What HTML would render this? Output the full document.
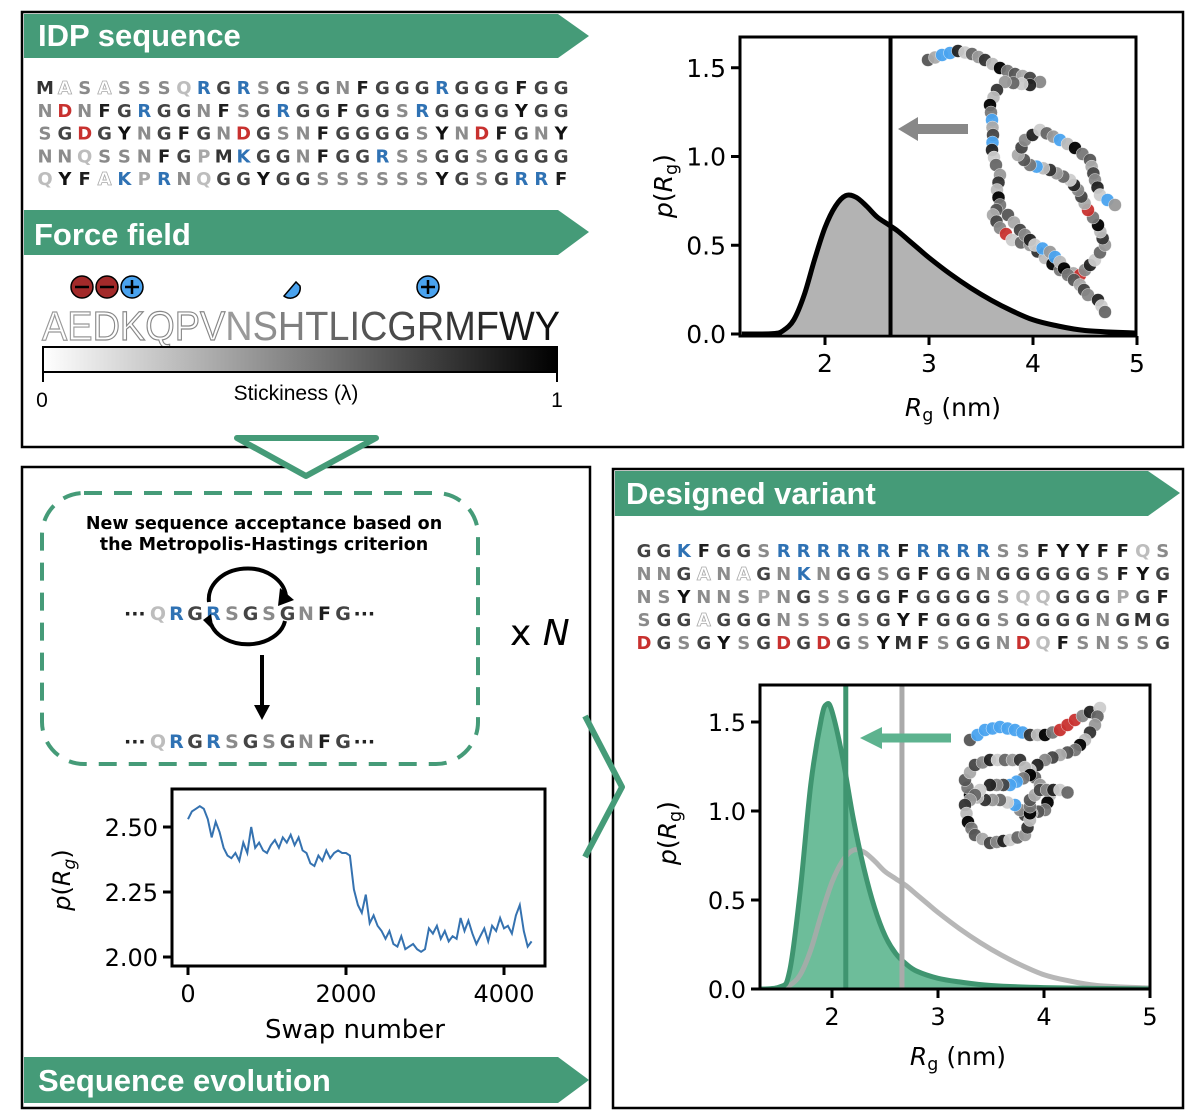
<!DOCTYPE html>
<html><head><meta charset="utf-8">
<style>
html,body{margin:0;padding:0;background:#fff;}
svg{display:block;font-family:"Liberation Sans","DejaVu Sans",sans-serif;}
.seq{font-family:"DejaVu Sans","Liberation Sans",sans-serif;font-weight:bold;}
.dv{font-family:"DejaVu Sans","Liberation Sans",sans-serif;}
</style></head>
<body>
<svg id="fig" width="1200" height="1118" viewBox="0 0 1200 1118" xmlns="http://www.w3.org/2000/svg">
<defs>
<linearGradient id="stick" x1="0" x2="1" y1="0" y2="0"><stop offset="0" stop-color="#fff"/><stop offset="1" stop-color="#000"/></linearGradient>
</defs>
<rect x="22" y="12" width="1161" height="435" fill="none" stroke="#000" stroke-width="2.5"/>
<rect x="22" y="467" width="568" height="641" fill="none" stroke="#000" stroke-width="2.5"/>
<rect x="613" y="469" width="570" height="639" fill="none" stroke="#000" stroke-width="2.5"/>

<g>
<polygon points="24,14 558,14 589,36 558,58 24,58" fill="#459b78"/>
<text x="38" y="46" fill="#fff" font-size="31" font-weight="bold">IDP sequence</text></g>
<g>
<polygon points="24,210 558,210 589,232 558,255 24,255" fill="#459b78"/>
<text x="34" y="245" fill="#fff" font-size="31" font-weight="bold">Force field</text></g>
<g>
<polygon points="615,471 1148,471 1180,493 1148,516 615,516" fill="#459b78"/>
<text x="626" y="504" fill="#fff" font-size="31" font-weight="bold">Designed variant</text></g>
<g>
<polygon points="24,1057 558,1057 589,1080 558,1103 24,1103" fill="#459b78"/>
<text x="38" y="1091" fill="#fff" font-size="31" font-weight="bold">Sequence evolution</text></g>

<polygon points="237,438 376,438 306,476" fill="#fff" stroke="#459b78" stroke-width="6" stroke-linejoin="round"/>
<polyline points="585,716 622,787 585,857" fill="none" stroke="#459b78" stroke-width="6" stroke-linejoin="round"/>

<g id="seqs"></g>

<g>
<circle cx="82" cy="287" r="11" fill="#a32a2a" stroke="#000" stroke-width="1.5"/><line x1="75" y1="287" x2="89" y2="287" stroke="#000" stroke-width="2.5"/>
<circle cx="107" cy="287" r="11" fill="#a32a2a" stroke="#000" stroke-width="1.5"/><line x1="100" y1="287" x2="114" y2="287" stroke="#000" stroke-width="2.5"/>
<circle cx="132" cy="287" r="11" fill="#4aa3ef" stroke="#000" stroke-width="1.5"/><line x1="125" y1="287" x2="139" y2="287" stroke="#000" stroke-width="2.5"/><line x1="132" y1="280" x2="132" y2="294" stroke="#000" stroke-width="2.5"/>
<path d="M284,296 A10,10 0 0 0 300,286 L296,282 Z" fill="#4aa3ef" stroke="#000" stroke-width="1.5"/>
<circle cx="428" cy="287" r="11" fill="#4aa3ef" stroke="#000" stroke-width="1.5"/><line x1="421" y1="287" x2="435" y2="287" stroke="#000" stroke-width="2.5"/><line x1="428" y1="280" x2="428" y2="294" stroke="#000" stroke-width="2.5"/>
</g>
<text id="aa" x="42" y="340" font-size="41" textLength="518" lengthAdjust="spacingAndGlyphs"></text>
<g>
<rect x="43" y="347" width="514" height="25" fill="url(#stick)" stroke="#000" stroke-width="2"/>
<line x1="43" y1="347" x2="43" y2="382" stroke="#000" stroke-width="2"/><line x1="557" y1="347" x2="557" y2="382" stroke="#000" stroke-width="2"/>
<text x="42" y="407" font-size="21" text-anchor="middle">0</text>
<text x="557" y="407" font-size="21" text-anchor="middle">1</text>
<text x="296" y="400" font-size="21" text-anchor="middle">Stickiness (λ)</text></g>

<g>
<rect x="42" y="493" width="436" height="271" rx="42" fill="none" stroke="#459b78" stroke-width="4" stroke-dasharray="18,12"/>
<text class="dv" x="264" y="529" font-size="17.5" font-weight="bold" text-anchor="middle">New sequence acceptance based on</text>
<text class="dv" x="264" y="550" font-size="17.5" font-weight="bold" text-anchor="middle">the Metropolis-Hastings criterion</text>
<path d="M209,602 A38,30 0 0 1 286,596" fill="none" stroke="#000" stroke-width="4"/>
<polygon points="280,588 294,600 278,606" fill="#000"/>
<path d="M285,621 A38,28 0 0 1 211,624" fill="none" stroke="#000" stroke-width="4"/>
<polygon points="203,620 211,614 214,631" fill="#000"/>
<line x1="262" y1="655" x2="262" y2="708" stroke="#000" stroke-width="4"/>
<polygon points="254,705 270,705 262,720" fill="#000"/>
</g>
<text class="dv" x="510" y="645" font-size="36">x <tspan font-style="italic">N</tspan></text>

<g id="charts" class="dv"></g>
</svg>
<script>
const seqTop = ["MASASSSQRGRSGSGNFGGGRGGGFGG","NDNFGRGGNFSGRGGFGGSRGGGGYGG","SGDGYNGFGNDGSNFGGGGSYNDFGNY","NNQSSNFGPMKGGNFGGRSSGGSGGGG","QYFAKPRNQGGYGGSSSSSSYGSGRRF"];
const seqVar = ["GGKFGGSRRRRRRFRRRRSSFYYFFQS","NNGANAGNKNGGSGFGGNGGGGGSFYG","NSYNNSPNGSSGGFGGGGSQQGGGPGF","SGGAGGGNSSGSGYFGGGSGGGGNGMG","DGSGYSGDGDGSYMFSGGNDQFSNSSG"];
const aaOrder = "AEDKQPVNSHTLICGRMFWY";
const col = {A:"#fff",E:"#eee",D:"#c8312f",K:"#2f72b4",R:"#2f72b4",Q:"#bdbdbd",P:"#a8a8a8",V:"#9a9a9a",N:"#8c8c8c",S:"#8a8a8a",H:"#777",T:"#666",L:"#555",I:"#555",C:"#4a4a4a",G:"#444",M:"#333",F:"#1e1e1e",W:"#111",Y:"#111"};
const NS="http://www.w3.org/2000/svg";
function mk(tag,attrs,parent){const e=document.createElementNS(NS,tag);for(const k in attrs)e.setAttribute(k,attrs[k]);parent.appendChild(e);return e;}
const seqG=document.getElementById('seqs');
function drawSeq(rows,x0,y0,dx,dy,name){
  const g=mk('g',{class:'seq'},seqG);
  
  
  rows.forEach((r,i)=>{
    [...r].forEach((c,j)=>{
      const t=mk('text',{x:x0+j*dx,y:y0+i*dy,'font-size':18,'text-anchor':'middle',fill:col[c]},g);
      if(c==='A'){t.setAttribute('fill','#fff');t.setAttribute('stroke','#aaa');t.setAttribute('stroke-width','0.8');}
      t.textContent=c;
    });
  });
}
drawSeq(seqTop,45,94,19.85,22.8,'idp-sequence-text');
drawSeq(seqVar,644,557,19.95,23,'designed-sequence-text');
function seqLine(str,x0,y,name){
  const g=mk('g',{class:'seq'},seqG);
  
  
  const d1=mk('text',{x:x0,y:y,'font-size':19,fill:'#222'},g);d1.textContent='···';
  [...str].forEach((c,j)=>{const t=mk('text',{x:x0+34+j*18.5,y:y,'font-size':19,'text-anchor':'middle',fill:col[c]},g);t.textContent=c;});
  const d2=mk('text',{x:x0+26+str.length*18.5,y:y,'font-size':19,fill:'#222'},g);d2.textContent='···';
}
seqLine("QRGRSGSGNFG",124,620,'sequence-before-swap');
seqLine("QRGRSGSGNFG",124,748,'sequence-after-swap');
const aa=document.getElementById('aa');
[...aaOrder].forEach((c,i)=>{const t=mk('tspan',{},aa);t.textContent=c;
  if(i<7){t.setAttribute('fill','#fff');t.setAttribute('stroke',i<2?'#999':'#888');t.setAttribute('stroke-width','1.2');}
  else t.setAttribute('fill',['#9a9a9a','#8f8f8f','#7f7f7f','#707070','#666','#5c5c5c','#555','#4a4a4a','#444','#363636','#2a2a2a','#1a1a1a','#111','#0a0a0a'][i-7]);});

const topRg = [1.2,1.5,1.6,1.7,1.8,1.9,2.0,2.1,2.2,2.3,2.4,2.5,2.6,2.7,2.8,2.9,3.0,3.2,3.4,3.6,3.8,4.0,4.2,4.5,5.0];
const topP  = [0,0.002,0.02,0.08,0.22,0.42,0.6,0.72,0.78,0.77,0.72,0.66,0.62,0.58,0.53,0.48,0.43,0.34,0.26,0.19,0.13,0.08,0.05,0.02,0.005];
const topMean = 2.63;
const varRg = [1.2,1.5,1.6,1.7,1.8,1.9,1.95,2.0,2.1,2.2,2.3,2.4,2.5,2.6,2.7,2.8,3.0,3.2,3.5,4.0,5.0];
const varP  = [0,0.01,0.1,0.55,1.15,1.52,1.6,1.56,1.3,0.96,0.68,0.46,0.3,0.2,0.14,0.1,0.06,0.04,0.02,0.008,0];
const varMean = 2.13;
const refMean = 2.66;
const yTicksP = [0.0,0.5,1.0,1.5];
const xTicksRg = [2,3,4,5];
const swaps = [0,50,100,150,200,250,300,350,400,450,500,550,600,650,700,750,800,850,900,950,1000,1050,1100,1150,1200,1250,1300,1350,1400,1450,1500,1550,1600,1650,1700,1750,1800,1850,1900,1950,2000,2050,2100,2150,2200,2250,2300,2350,2400,2450,2500,2550,2600,2650,2700,2750,2800,2850,2900,2950,3000,3050,3100,3150,3200,3250,3300,3350,3400,3450,3500,3550,3600,3650,3700,3750,3800,3850,3900,3950,4000,4050,4100,4150,4200,4250,4300,4350];
const rgTrace = [2.53,2.56,2.57,2.58,2.57,2.53,2.46,2.52,2.48,2.42,2.39,2.38,2.40,2.37,2.44,2.40,2.50,2.42,2.44,2.41,2.40,2.43,2.45,2.42,2.46,2.44,2.47,2.43,2.46,2.41,2.40,2.36,2.35,2.39,2.37,2.41,2.38,2.40,2.41,2.40,2.40,2.39,2.26,2.20,2.17,2.24,2.13,2.16,2.12,2.10,2.07,2.10,2.05,2.04,2.08,2.03,2.04,2.05,2.03,2.02,2.03,2.11,2.09,2.12,2.07,2.10,2.06,2.08,2.07,2.15,2.10,2.14,2.09,2.05,2.08,2.11,2.06,2.12,2.10,2.15,2.11,2.12,2.09,2.16,2.20,2.10,2.04,2.06];
const swapTicks = [0,2000,4000];
const trTicks = [2.00,2.25,2.50];

const C=document.getElementById('charts');
function axes(g,x0,x1,y0,y1){ mk('rect',{x:x0,y:y0,width:x1-x0,height:y1-y0,fill:'none',stroke:'#000','stroke-width':3},g); }
function pathFrom(xs,ys,sx,sy){return xs.map((v,i)=>(i?'L':'M')+sx(v).toFixed(1)+','+sy(ys[i]).toFixed(1)).join('');}
function smoothPath(xs,ys,sx,sy){
  const p=xs.map((v,i)=>[sx(v),sy(ys[i])]);let d='M'+p[0][0]+','+p[0][1];
  for(let i=0;i<p.length-1;i++){const a=p[Math.max(0,i-1)],b=p[i],c=p[i+1],e=p[Math.min(p.length-1,i+2)];
    d+=`C${b[0]+(c[0]-a[0])/6},${b[1]+(c[1]-a[1])/6} ${c[0]-(e[0]-b[0])/6},${c[1]-(e[1]-b[1])/6} ${c[0]},${c[1]}`;}
  return d;}
function yLabel(g,x,y,size){const t=mk('text',{transform:`translate(${x},${y}) rotate(-90)`,'font-size':size,'text-anchor':'middle'},g);
  t.innerHTML=`<tspan font-style="italic">p</tspan>(<tspan font-style="italic">R</tspan><tspan font-size="${size*0.7}" dy="5">g</tspan><tspan dy="-5">)</tspan>`;return t;}
function xLabel(g,x,y,size){const t=mk('text',{x:x,y:y,'font-size':size,'text-anchor':'middle'},g);
  t.innerHTML=`<tspan font-style="italic">R</tspan><tspan font-size="${size*0.7}" dy="5">g</tspan><tspan dy="-5"> (nm)</tspan>`;return t;}
function ticks(g,xs,sx,yb,ys,sy,xl,fmt,size){
  xs.forEach(v=>{mk('line',{x1:sx(v),x2:sx(v),y1:yb,y2:yb+9,stroke:'#000','stroke-width':3},g);const t=mk('text',{x:sx(v),y:yb+36,'font-size':size,'text-anchor':'middle'},g);t.textContent=v;});
  ys.forEach(v=>{mk('line',{x1:xl-9,x2:xl,y1:sy(v),y2:sy(v),stroke:'#000','stroke-width':3},g);const t=mk('text',{x:xl-14,y:sy(v)+9,'font-size':size,'text-anchor':'end'},g);t.textContent=fmt(v);});
}
const pal=['#555','#999','#444','#bbb','#222','#777','#666','#aaa','#333','#888','#000','#ccc'];
function beads(g,pts,specials){
  let list=[];for(let i=0;i<pts.length-1;i++){const [a,b]=[pts[i],pts[i+1]];const L=Math.hypot(b[0]-a[0],b[1]-a[1]);const n=Math.max(1,Math.round(L/8));
    for(let k=0;k<n;k++)list.push([a[0]+(b[0]-a[0])*k/n,a[1]+(b[1]-a[1])*k/n]);}
  list.forEach((p,i)=>{let f=pal[(i*7)%pal.length];if(specials[i])f=specials[i];mk('circle',{cx:p[0],cy:p[1],r:6.5,fill:f,stroke:'#fff','stroke-width':0.4,'fill-opacity':0.95},g);});
}

{
 const g=mk('g',{},C);
 
 
 const X0=740,X1=1136,Y0=37,Y1=336;
 const sx=v=>825+(v-2)*104;const sy=v=>Y1-2-v*177.5;
 const cp=mk('clipPath',{id:'c1'},g);mk('rect',{x:X0,y:Y0,width:X1-X0,height:Y1-Y0},cp);
 const pg=mk('g',{'clip-path':'url(#c1)'},g);
 const d=smoothPath(topRg,topP,sx,sy);
 const area=mk('path',{d:d+`L${sx(5)},${sy(0)}L${sx(1.2)},${sy(0)}Z`,fill:'#b3b3b3'},pg);
 
 
 const line=mk('path',{d:d,fill:'none',stroke:'#000','stroke-width':5},pg);
 
 
 const ml=mk('line',{x1:sx(topMean),x2:sx(topMean),y1:Y0,y2:Y1,stroke:'#000','stroke-width':4},pg);
 
 
 mk('line',{x1:968,x2:915,y1:129,y2:129,stroke:'#888','stroke-width':10},pg);
 mk('polygon',{points:'918,117 898,129 918,141',fill:'#888'},pg);
 beads(pg,[[928,60],[942,55],[958,51],[972,54],[985,60],[1000,68],[1015,74],[1030,78],[1040,82],[1030,85],[1005,82],[997,90],[990,105],[992,120],[993,135],[992,150],[996,165],[1000,175],[997,190],[1000,205],[993,215],[1000,228],[1012,240],[1030,245],[1045,258],[1060,270],[1080,275],[1095,260],[1105,245],[1098,225],[1088,210],[1078,190],[1070,180],[1050,170],[1030,165],[1018,155],[1025,140],[1040,130],[1060,140],[1075,148],[1090,160],[1095,180],[1100,195],[1115,205],[1105,210]],{2:'#4aa3ef',3:'#4aa3ef',24:'#4aa3ef',27:'#4aa3ef',40:'#c8312f',50:'#c8312f',60:'#c8312f',70:'#4aa3ef',80:'#4aa3ef',90:'#4aa3ef'});
 beads(pg,[[1008,215],[1020,230],[1035,245],[1050,252],[1060,262],[1068,275],[1080,285],[1088,295],[1098,300],[1105,312],[1108,322]],{6:'#4aa3ef',8:'#4aa3ef'});
 axes(g,X0,X1,Y0,Y1);
 ticks(g,xTicksRg,sx,Y1,yTicksP,sy,X0,v=>v.toFixed(1),25);
 yLabel(g,672,186,25);xLabel(g,953,416,25);
}
{
 const g=mk('g',{},C);
 
 
 const X0=760,X1=1150,Y0=685,Y1=989;
 const sx=v=>832+(v-2)*106;const sy=v=>Y1-v*178;
 const cp=mk('clipPath',{id:'c2'},g);mk('rect',{x:X0,y:Y0,width:X1-X0,height:Y1-Y0},cp);
 const pg=mk('g',{'clip-path':'url(#c2)'},g);
 const d=smoothPath(varRg,varP,sx,sy);
 const area=mk('path',{d:d+`L${sx(5)},${sy(0)}L${sx(1.2)},${sy(0)}Z`,fill:'#6dbd9a'},pg);
 
 
 const ref=mk('path',{d:smoothPath(topRg,topP,sx,sy),fill:'none',stroke:'#aaa','stroke-width':5,'stroke-opacity':0.85},pg);
 
 
 const line=mk('path',{d:d,fill:'none',stroke:'#3f9570','stroke-width':5},pg);
 
 
 const rl=mk('line',{x1:sx(refMean),x2:sx(refMean),y1:Y0,y2:Y1,stroke:'#aaa','stroke-width':5},pg);
 
 
 const ml=mk('line',{x1:sx(varMean),x2:sx(varMean),y1:Y0,y2:Y1,stroke:'#3f9570','stroke-width':5},pg);
 
 
 mk('line',{x1:951,x2:880,y1:738,y2:738,stroke:'#5db38f','stroke-width':9},pg);
 mk('polygon',{points:'882,727 860,738 882,749',fill:'#5db38f'},pg);
 beads(pg,[[970,740],[985,730],[1000,727],[1015,730],[1030,735],[1045,735],[1060,730],[1075,720],[1090,712],[1100,708],[1095,725],[1085,740],[1075,750],[1060,755],[1045,760],[1030,770],[1040,785],[1050,795],[1045,810],[1025,815],[1015,805],[1000,800],[985,800],[970,795],[965,780],[975,765],[990,760],[1005,760],[1020,760],[1030,775],[1010,785],[990,785],[980,790],[965,805],[968,822],[975,835],[990,843],[1010,840],[1025,835],[1030,820],[1030,800],[1040,790],[1060,790],[1075,795]],{1:'#4aa3ef',2:'#4aa3ef',3:'#4aa3ef',4:'#4aa3ef',5:'#4aa3ef',6:'#4aa3ef',7:'#4aa3ef',12:'#c8312f',13:'#c8312f',14:'#c8312f',40:'#4aa3ef',60:'#4aa3ef',61:'#4aa3ef'});
 axes(g,X0,X1,Y0,Y1);
 ticks(g,xTicksRg,sx,Y1,yTicksP,sy,X0,v=>v.toFixed(1),24);
 yLabel(g,676,833,25);xLabel(g,958,1065,25);
}
{
 const g=mk('g',{},C);
 
 
 const X0=172,X1=545,Y0=789,Y1=966;
 const sx=v=>188+v*0.079;const sy=v=>957-(v-2)*260;
 const line=mk('path',{d:pathFrom(swaps,rgTrace,sx,sy),fill:'none',stroke:'#3572b0','stroke-width':2},g);
 
 
 axes(g,X0,X1,Y0,Y1);
 ticks(g,swapTicks,sx,Y1,trTicks,sy,X0,v=>v.toFixed(2),24);
 const xl=mk('text',{x:355,y:1038,'font-size':26,'text-anchor':'middle'},g);xl.textContent='Swap number';
 const t=mk('text',{transform:'translate(70,880) rotate(-90)','font-size':24,'text-anchor':'middle'},g);
 t.innerHTML='<tspan font-style="italic">p</tspan>(<tspan font-style="italic">R</tspan><tspan font-style="italic" font-size="17" dy="5">g</tspan><tspan dy="-5">)</tspan>';
}
</script>
</body></html>
